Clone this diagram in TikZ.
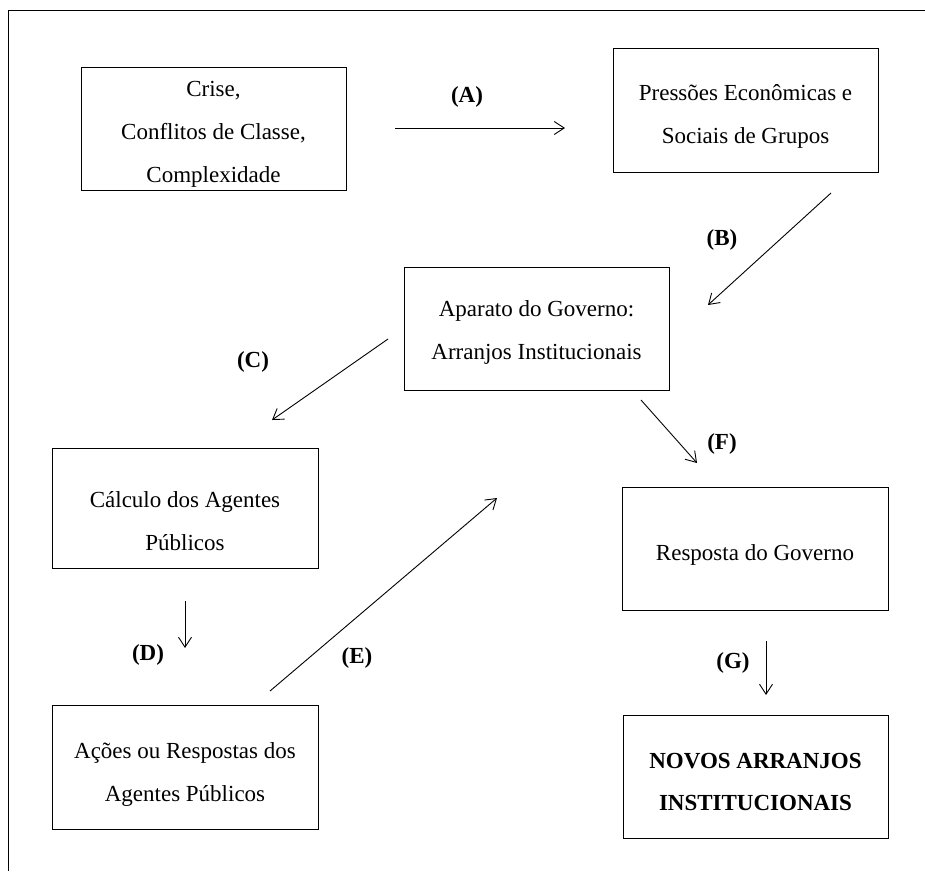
\documentclass[tikz,border=0pt]{standalone}
\usepackage{fontspec}
\setmainfont{Liberation Serif}
\usetikzlibrary{arrows.meta}
\begin{document}
\begin{tikzpicture}[x=1pt,y=-1pt,
  box/.style={draw,line width=1pt,inner sep=0pt},
  txt/.style={inner sep=0pt,align=center,font=\fontsize{23}{43}\selectfont},
  lbl/.style={font=\fontsize{23}{27}\selectfont\bfseries},
  conn/.style={line width=0.9pt,-{Straight Barb[length=10pt,width=13pt,line width=0.9pt]}}]
\useasboundingbox (0,0) rectangle (925,871);
\draw[line width=1pt] (925,10) -- (8,10) -- (8,871);
% boxes
\node[box,minimum width=265pt,minimum height=123pt] (crise) at (213.5,128.5) {};
\node[box,minimum width=265pt,minimum height=124pt] (press) at (745.5,110) {};
\node[box,minimum width=265pt,minimum height=123pt] (apar) at (536.5,328.5) {};
\node[box,minimum width=266pt,minimum height=120pt] (calc) at (185,508) {};
\node[box,minimum width=266pt,minimum height=123pt] (resp) at (755,548.5) {};
\node[box,minimum width=266pt,minimum height=124pt] (acoes) at (185,767) {};
\node[box,minimum width=265pt,minimum height=123pt] (novos) at (755.5,776.5) {};
% box texts
\node[txt] (crise-t) at ([yshift=-6pt]crise.center) {Crise,\\Conflitos de Classe,\\Complexidade};
\node[txt] (press-t) at ([yshift=-6pt]press.center) {Pressões Econômicas e\\Sociais de Grupos};
\node[txt] (apar-t) at ([yshift=-4pt]apar.center) {Aparato do Governo:\\Arranjos Institucionais};
\node[txt] (calc-t) at ([yshift=-13pt]calc.center) {Cálculo dos Agentes\\Públicos};
\node[txt] (resp-t) at ([yshift=-6pt]resp.center) {Resposta do Governo};
\node[txt] (acoes-t) at ([yshift=-7pt]acoes.center) {Ações ou Respostas dos\\Agentes Públicos};
\node[txt,font=\fontsize{23}{42}\selectfont\bfseries] (novos-t) at ([yshift=-5pt]novos.center) {NOVOS ARRANJOS\\INSTITUCIONAIS};
% connector end points
\coordinate (a1) at (395,128); \coordinate (a2) at (565,128);
\coordinate (b1) at (831,193); \coordinate (b2) at (708,305);
\coordinate (c1) at (388,339); \coordinate (c2) at (272,420);
\coordinate (d1) at (185,601); \coordinate (d2) at (185,648);
\coordinate (e1) at (270,691); \coordinate (e2) at (497,498);
\coordinate (f1) at (641,400); \coordinate (f2) at (697,463);
\coordinate (g1) at (766,641); \coordinate (g2) at (766,695);
\draw[conn] (a1) -- (a2);
\draw[conn] (b1) -- (b2);
\draw[conn] (c1) -- (c2);
\draw[conn] (d1) -- (d2);
\draw[conn] (e1) -- (e2);
\draw[conn] (f1) -- (f2);
\draw[conn] (g1) -- (g2);
% labels
\node[lbl] (la) at (467,97) {(A)};
\node[lbl] (lb) at (722,240) {(B)};
\node[lbl] (lc) at (253,362) {(C)};
\node[lbl] (ld) at (148,655) {(D)};
\node[lbl] (le) at (357,658) {(E)};
\node[lbl] (lf) at (722,444) {(F)};
\node[lbl] (lg) at (733,663) {(G)};
\end{tikzpicture}
\end{document}
